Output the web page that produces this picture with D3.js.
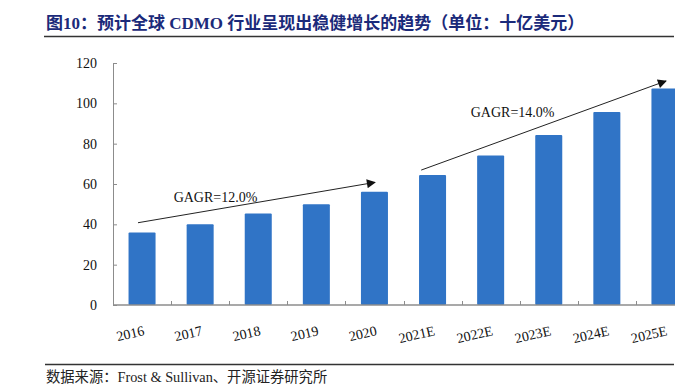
<!DOCTYPE html>
<html>
<head>
<meta charset="utf-8">
<script src="https://cdn.jsdelivr.net/npm/d3@7"></script>
<style>
  body { margin: 0; background: #fff; }
  svg text { font-family: "Liberation Serif", "Noto Sans CJK SC", serif; }
</style>
</head>
<body>
<div id="chart"></div>
<script>
// chart data (billion USD)
var years = ["2016", "2017", "2018", "2019", "2020", "2021E", "2022E", "2023E", "2024E", "2025E"];
var marketSize = [36.0, 40.1, 45.4, 49.9, 56.1, 64.5, 74.1, 84.3, 95.7, 107.3];
var yTicks = [0, 20, 40, 60, 80, 100, 120];

// growth arrows: from [year, value] to [year, value]
var cagrText = ["GAGR=12.0%", "GAGR=14.0%"];
var arrowStart = [["2016", 40.8], ["2021E", 66.9]];
var arrowEnd = [["2020", 60.8], ["2025E", 111.1]];

var W = 695, H = 392;
var margin = {left: 113, right: 1, top: 63, bottom: 87};

var svg = d3.select("#chart").append("svg")
  .attr("width", W)
  .attr("height", H);

// title
svg.append("text")
  .attr("x", 46)
  .attr("y", 29)
  .attr("font-size", "17px")
  .attr("font-weight", "bold")
  .attr("fill", "#1b2a7a")
  .text("图10：预计全球 CDMO 行业呈现出稳健增长的趋势（单位：十亿美元）");

svg.append("line")
  .attr("x1", 44).attr("x2", 674)
  .attr("y1", 36.5).attr("y2", 36.5)
  .attr("stroke", "#333")
  .attr("stroke-width", 1.5);

// footer
svg.append("line")
  .attr("x1", 45).attr("x2", 674)
  .attr("y1", 364.5).attr("y2", 364.5)
  .attr("stroke", "#333")
  .attr("stroke-width", 1.5);

svg.append("text")
  .attr("x", 46)
  .attr("y", 382)
  .attr("font-size", "14.3px")
  .attr("fill", "#222")
  .text("数据来源：Frost & Sullivan、开源证券研究所");

var x = d3.scaleBand()
  .domain(years)
  .range([margin.left, W - margin.right])
  .paddingInner(0.535)
  .paddingOuter(0.2675);

var y = d3.scaleLinear()
  .domain([0, 120])
  .range([H - margin.bottom, margin.top]);

var baseY = y(0);
var clipRight = 675;

svg.append("clipPath").attr("id", "plotclip")
  .append("rect")
  .attr("x", margin.left).attr("y", 0)
  .attr("width", clipRight - margin.left).attr("height", H);

var plot = svg.append("g").attr("clip-path", "url(#plotclip)");

// bars
plot.selectAll("rect.bar")
  .data(years)
  .enter()
  .append("rect")
    .attr("class", "bar")
    .attr("x", function(d) { return x(d); })
    .attr("y", function(d, i) { return y(marketSize[i]); })
    .attr("width", x.bandwidth())
    .attr("height", function(d, i) { return baseY - y(marketSize[i]); })
    .attr("rx", 1)
    .attr("fill", "#3074c6");

// Y axis, inside ticks
var yAxis = svg.append("g")
  .attr("transform", "translate(" + margin.left + ",0)")
  .call(d3.axisLeft(y).tickValues(yTicks).tickSizeInner(-4).tickSizeOuter(0).tickPadding(16));
yAxis.select(".domain").attr("stroke", "#8c8c8c");
yAxis.selectAll(".tick line").attr("stroke", "#8c8c8c");
yAxis.selectAll(".tick text")
  .attr("font-size", "14px")
  .attr("fill", "#111");

// X axis: line + ticks between bands
var xAxis = plot.append("g");
xAxis.append("line")
  .attr("x1", margin.left).attr("x2", clipRight)
  .attr("y1", baseY).attr("y2", baseY)
  .attr("stroke", "#8c8c8c")
  .attr("stroke-width", 1.5);

var step = x.step();
xAxis.selectAll("line.tk")
  .data(years.slice(1))
  .enter()
  .append("line")
    .attr("class", "tk")
    .attr("x1", function(d) { return Math.round(x(d) - step * x.paddingInner() / 2) + 0.5; })
    .attr("x2", function(d) { return Math.round(x(d) - step * x.paddingInner() / 2) + 0.5; })
    .attr("y1", baseY).attr("y2", baseY - 4)
    .attr("stroke", "#8c8c8c");

// x labels, slanted
svg.selectAll("text.xl")
  .data(years)
  .enter()
  .append("text")
    .attr("class", "xl")
    .attr("text-anchor", "end")
    .attr("font-size", "14px")
    .attr("fill", "#111")
    .attr("transform", function(d) {
      return "translate(" + (x(d) + x.bandwidth() / 2 + 3) + "," + (baseY + 30) + ") rotate(-13)";
    })
    .text(function(d) { return d; });

// arrows
svg.append("defs").append("marker")
  .attr("id", "arrowhead")
  .attr("viewBox", "0 0 10 10")
  .attr("refX", 9).attr("refY", 5)
  .attr("markerWidth", 11).attr("markerHeight", 9)
  .attr("markerUnits", "userSpaceOnUse")
  .attr("orient", "auto")
  .append("path")
    .attr("d", "M0,0 L10,5 L0,10 z")
    .attr("fill", "#111");

var startFrac = [0.35, 0.08];
var endFrac = [0.52, 0.54];
var labelDx = [-41, -31];
var labelDy = [-1, -9];

cagrText.forEach(function(t, i) {
  var x1 = x(arrowStart[i][0]) + x.bandwidth() * startFrac[i];
  var y1 = y(arrowStart[i][1]);
  var x2 = x(arrowEnd[i][0]) + x.bandwidth() * endFrac[i];
  var y2 = y(arrowEnd[i][1]);

  svg.append("line")
    .attr("x1", x1).attr("y1", y1)
    .attr("x2", x2).attr("y2", y2)
    .attr("stroke", "#222")
    .attr("stroke-width", 1)
    .attr("marker-end", "url(#arrowhead)");

  svg.append("text")
    .attr("x", (x1 + x2) / 2 + labelDx[i])
    .attr("y", (y1 + y2) / 2 + labelDy[i])
    .attr("text-anchor", "middle")
    .attr("font-size", "14px")
    .attr("fill", "#111")
    .text(t);
});
</script>
</body>
</html>
